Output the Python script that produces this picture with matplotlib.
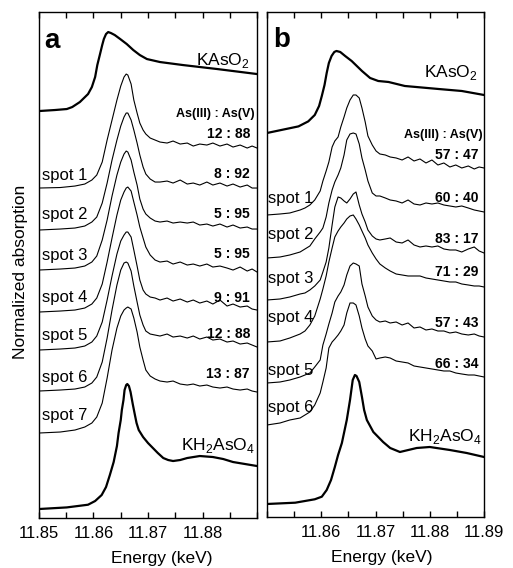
import matplotlib
matplotlib.use("Agg")
import matplotlib.pyplot as plt

plt.rcParams['font.family'] = ['Liberation Sans', 'DejaVu Sans']
plt.rcParams['mathtext.fontset'] = 'custom'
plt.rcParams['mathtext.rm'] = 'Liberation Sans'

# ---------------- Panel a data ----------------
e_a_kaso2 = [11.8500, 11.8529, 11.8551, 11.8561, 11.8575, 11.8590, 11.8597, 11.8603, 11.8607,
             11.8612, 11.8616, 11.8619, 11.8623, 11.8627, 11.8632, 11.8639, 11.8649, 11.8661,
             11.8673, 11.8685, 11.8698, 11.8722, 11.8764, 11.8827, 11.8900]
mu_a_kaso2 = [0, 1, 2, 4, 9, 17, 24, 34, 46, 57, 66, 72, 77, 79, 78, 76, 72, 67,
              61, 56, 52, 49, 46, 42, 37]

e_a_kh2 = [11.8500, 11.8551, 11.8590, 11.8603, 11.8615, 11.8623, 11.8630, 11.8637, 11.8643,
           11.8646, 11.8650, 11.8652, 11.8655, 11.8657, 11.8660, 11.8662, 11.8665, 11.8668,
           11.8672, 11.8676, 11.8679, 11.8683, 11.8691, 11.8700, 11.8709, 11.8718, 11.8728,
           11.8737, 11.8746, 11.8759, 11.8772, 11.8795, 11.8819, 11.8838, 11.8856, 11.8878,
           11.8900]
mu_a_kh2 = [0, 1.6, 4.3, 8, 14, 22, 34, 47, 63, 76, 89, 99, 109, 119, 124, 125, 123, 117,
            105, 94, 86, 79, 72, 66, 61, 56, 51, 49, 48, 49, 51, 53, 52, 50, 47, 45, 43]

e_a_spot = [11.8500, 11.8539, 11.8566, 11.8584, 11.8597, 11.8606, 11.8616, 11.8625, 11.8634,
            11.8643, 11.8650, 11.8656, 11.8660, 11.8663, 11.8669, 11.8674, 11.8680, 11.8685,
            11.8691, 11.8696, 11.8704, 11.8713, 11.8722, 11.8735, 11.8746, 11.8759, 11.8772,
            11.8783, 11.8795, 11.8808, 11.8819, 11.8832, 11.8845, 11.8856, 11.8869, 11.8882,
            11.8891, 11.8900]
mu_a_s1 = [0, 0.5, 2, 4, 8, 13, 26, 48, 68, 88, 102, 111, 114, 113, 104, 88, 75, 65, 58, 54,
           50, 48, 46, 45, 47, 44, 45, 42, 44, 43, 45, 42, 44, 41, 43, 40, 42, 40]
mu_a_s2 = [0, 1, 2, 4, 8, 13, 27, 47, 70, 90, 104, 113, 117, 117, 110, 100, 87, 75, 63, 56,
           51, 48, 48, 49, 47, 50, 46, 47, 45, 48, 45, 47, 44, 46, 43, 45, 42, 42]
mu_a_s3 = [0, 1, 2, 4, 8, 14, 30, 50, 74, 95, 108, 116, 119, 118, 110, 98, 85, 71, 61, 56,
           52, 49, 48, 49, 47, 48, 47, 48, 45, 46, 44, 46, 43, 45, 42, 43, 41, 41]
mu_a_s4 = [0, 1, 2, 4, 8, 14, 28, 50, 74, 97, 112, 120, 124, 125, 121, 110, 97, 85, 74, 65,
           57, 52, 50, 51, 48, 50, 47, 48, 46, 48, 45, 46, 44, 42, 45, 41, 43, 40]
mu_a_s5 = [0, 1, 2, 4, 8, 14, 28, 50, 74, 96, 109, 115, 118, 118, 113, 100, 84, 70, 60, 56,
           53, 52, 50, 52, 49, 51, 48, 50, 47, 49, 46, 50, 44, 46, 43, 44, 41, 40]
mu_a_s6 = [0, 1, 2, 4, 8, 14, 29, 53, 81, 106, 121, 128, 129, 128, 120, 105, 89, 76, 66, 60,
           57, 56, 55, 57, 54, 55, 53, 55, 52, 54, 51, 52, 49, 50, 47, 48, 46, 44]
mu_a_s7 = [0, 1, 3, 6, 10, 16, 30, 55, 83, 105, 117, 123, 125, 126, 124, 115, 101, 86, 73, 63,
           57, 54, 52, 51, 52, 49, 48, 49, 47, 48, 46, 45, 46, 44, 43, 44, 42, 41]
a_spots = [mu_a_s1, mu_a_s2, mu_a_s3, mu_a_s4, mu_a_s5, mu_a_s6, mu_a_s7]
a_offsets = [330, 288, 248, 206, 168, 127, 85]
a_off_kaso2 = 407
a_off_kh2 = 9
a_ratios = ["12 : 88", "8 : 92", "5 : 95", "5 : 95", "9 : 91", "12 : 88", "13 : 87"]
a_ratio_y = [380, 340, 300, 260, 216, 180, 140]
a_spot_y = [338, 299, 258, 216, 178, 136, 98]

# ---------------- Panel b data ----------------
e_b_kaso2 = [11.8500, 11.8558, 11.8576, 11.8588, 11.8596, 11.8601, 11.8606, 11.8610, 11.8614,
             11.8619, 11.8624, 11.8628, 11.8635, 11.8644, 11.8656, 11.8675, 11.8690, 11.8705,
             11.8724, 11.8754, 11.8816, 11.8859, 11.8900]
mu_b_kaso2 = [0, 6.6, 11.6, 18, 27, 37, 48, 60, 70, 77, 81, 82, 81, 77, 72, 62, 55, 52,
              51, 47, 44, 42, 38]

e_b_kh2 = [11.8500, 11.8552, 11.8588, 11.8601, 11.8610, 11.8618, 11.8625, 11.8631, 11.8638,
           11.8647, 11.8653, 11.8658, 11.8662, 11.8665, 11.8670, 11.8675, 11.8679, 11.8684,
           11.8696, 11.8714, 11.8727, 11.8745, 11.8776, 11.8800, 11.8837, 11.8868, 11.8900]
mu_b_kh2 = [0, 1.3, 4.7, 7.3, 14, 24, 37, 49, 61, 84, 104, 124, 129, 128, 122, 107, 94, 84,
            72, 62, 56, 52, 56, 57, 54, 51, 47]

e_b_spot = [11.8500, 11.8524, 11.8542, 11.8561, 11.8570, 11.8579, 11.8588, 11.8598, 11.8603,
            11.8609, 11.8614, 11.8620, 11.8625, 11.8631, 11.8636, 11.8642, 11.8647, 11.8653,
            11.8659, 11.8664, 11.8670, 11.8675, 11.8681, 11.8686, 11.8694, 11.8701, 11.8708,
            11.8718, 11.8727, 11.8738, 11.8749, 11.8760, 11.8771, 11.8782, 11.8793, 11.8804,
            11.8815, 11.8826, 11.8837, 11.8848, 11.8859, 11.8871, 11.8882, 11.8891, 11.8900]
mu_b_s1 = [0, 1, 2, 5, 7, 10, 15, 24, 34, 44, 53, 68, 74, 78, 88, 98, 107, 115, 120, 120,
           117, 107, 93, 79, 70, 64, 61, 60, 58, 57, 55, 58, 54, 56, 52, 55, 50, 52, 48, 50,
           47, 49, 46, 48, 47]
mu_b_s2 = [0, 1, 3, 6, 9, 12, 19, 26, 30, 41, 55, 68, 76, 83, 90, 103, 118, 124, 125, 124,
           114, 100, 88, 77, 65, 62, 62, 60, 58, 57, 55, 58, 54, 53, 55, 54, 55, 53, 52, 51,
           52, 50, 48, 47, 46]
mu_b_s3 = [0, 1, 3, 6, 7, 10, 14, 20, 28, 38, 52, 75, 93, 103, 102, 99, 97, 101, 106, 108,
           95, 86, 78, 70, 64, 61, 60, 61, 62, 58, 57, 60, 55, 53, 54, 53, 54, 51, 50, 50,
           48, 51, 53, 49, 47]
mu_b_s4 = [0, 1, 4, 8, 11, 17, 26, 43, 53, 66, 80, 94, 105, 111, 115, 119, 123, 126, 127, 123,
           117, 111, 104, 97, 89, 83, 78, 74, 71, 68, 67, 66, 66, 66, 64, 63, 62, 61, 60, 60,
           58, 57, 56, 56, 55]
mu_b_s5 = [0, 1, 3, 6, 8, 10, 16, 23, 38, 49, 59, 70, 81, 87, 91, 98, 108, 117, 120, 119,
           117, 99, 87, 76, 67, 63, 61, 62, 60, 61, 58, 60, 55, 56, 53, 54, 52, 52, 50, 51,
           49, 48, 49, 47, 46]
mu_b_s6 = [0, 2, 5, 7, 10, 13, 20, 32, 43, 57, 77, 83, 86, 90, 94, 100, 112, 122, 122, 120,
           109, 97, 86, 79, 74, 66, 67, 68, 67, 64, 63, 62, 59, 58, 57, 56, 55, 54, 54, 52,
           51, 50, 50, 49, 48]
b_spots = [mu_b_s1, mu_b_s2, mu_b_s3, mu_b_s4, mu_b_s5, mu_b_s6]
b_offsets = [302, 259, 217, 175, 134, 92]
b_off_kaso2 = 384
b_off_kh2 = 13
b_ratios = ["57 : 47", "60 : 40", "83 : 17", "71 : 29", "57 : 43", "66 : 34"]
b_ratio_y = [358, 315, 274, 241, 190, 149]
b_spot_y = [314, 278, 234, 195, 142, 105]

ticks = [11.85, 11.855, 11.86, 11.865, 11.87, 11.875, 11.88, 11.885, 11.89]
a_ticklabels = ["11.85", "", "11.86", "", "11.87", "", "11.88", "", ""]
b_ticklabels = ["", "", "11.86", "", "11.87", "", "11.88", "", "11.89"]

# ---------------- Figure ----------------
fig = plt.figure(figsize=(5.13, 5.68), dpi=100)
ax_a = fig.add_axes([0.0760, 0.0880, 0.4250, 0.8908])
ax_b = fig.add_axes([0.5205, 0.0898, 0.4230, 0.8891])

thick = 1.6
thin = 0.8


def style(ax, labels, ymax, xlab_x):
    ax.set_xlim(11.85, 11.89)
    ax.set_ylim(0, ymax)
    ax.set_xticks(ticks)
    ax.set_xticklabels(labels, fontsize=12)
    ax.set_yticks([])
    ax.tick_params(axis='x', direction='in', top=True, bottom=True, length=4, width=1, pad=6)
    for s in ax.spines.values():
        s.set_linewidth(1.0)
    ax.set_xlabel("Energy (keV)", fontsize=12.5)
    ax.xaxis.set_label_coords(xlab_x, -0.066)


# Panel a
ax_a.plot(e_a_kaso2, [v + a_off_kaso2 for v in mu_a_kaso2], color='black', lw=thick)
ax_a.plot(e_a_kh2, [v + a_off_kh2 for v in mu_a_kh2], color='black', lw=thick)
for mu, off in zip(a_spots, a_offsets):
    ax_a.plot(e_a_spot, [v + off for v in mu], color='black', lw=thin)
style(ax_a, a_ticklabels, 506, 0.564)
ax_a.set_ylabel("Normalized absorption", fontsize=12.5)
ax_a.yaxis.set_label_coords(-0.05, 0.486)

ax_a.text(11.8510, 470, "a", fontsize=20, fontweight='bold', va='baseline', ha='left')
ax_a.text(11.8887, 453, r"KAsO$_2$", fontsize=12.5, ha='right', va='baseline')
ax_a.text(11.8896, 68, r"KH$_2$AsO$_4$", fontsize=12.5, ha='right', va='baseline')
ax_a.text(11.8896, 401, "As(III) : As(V)", fontsize=9, fontweight='bold', ha='right', va='baseline')
for i, (r, yr, ys) in enumerate(zip(a_ratios, a_ratio_y, a_spot_y)):
    ax_a.text(11.8887, yr, r, fontsize=10, fontweight='bold', ha='right', va='baseline')
    ax_a.text(11.8506, ys, f"spot {i + 1}", fontsize=12, ha='left', va='baseline')

# Panel b
ax_b.plot(e_b_kaso2, [v + b_off_kaso2 for v in mu_b_kaso2], color='black', lw=thick)
ax_b.plot(e_b_kh2, [v + b_off_kh2 for v in mu_b_kh2], color='black', lw=thick)
for mu, off in zip(b_spots, b_offsets):
    ax_b.plot(e_b_spot, [v + off for v in mu], color='black', lw=thin)
style(ax_b, b_ticklabels, 505, 0.53)

ax_b.text(11.8511, 470, "b", fontsize=20, fontweight='bold', va='baseline', ha='left')
ax_b.text(11.8889, 440, r"KAsO$_2$", fontsize=12.5, ha='right', va='baseline')
ax_b.text(11.8896, 76, r"KH$_2$AsO$_4$", fontsize=12.5, ha='right', va='baseline')
ax_b.text(11.8898, 379, "As(III) : As(V)", fontsize=9, fontweight='bold', ha='right', va='baseline')
for i, (r, yr, ys) in enumerate(zip(b_ratios, b_ratio_y, b_spot_y)):
    ax_b.text(11.8889, yr, r, fontsize=10, fontweight='bold', ha='right', va='baseline')
    ax_b.text(11.8501, ys, f"spot {i + 1}", fontsize=12, ha='left', va='baseline')

fig.savefig("out.png", dpi=100)
